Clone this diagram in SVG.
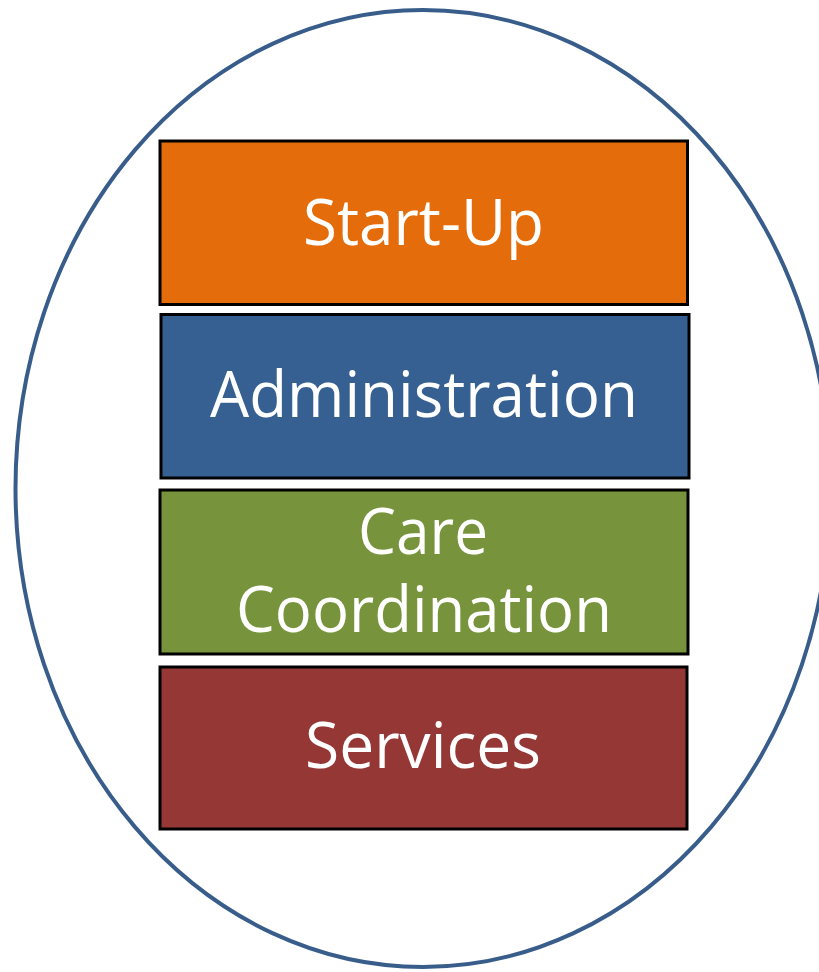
<svg xmlns="http://www.w3.org/2000/svg" width="819" height="972" viewBox="0 0 819 972">
  <style>
    .box { stroke: #000000; stroke-width: 3; }
    .label { font-family: "Open Sans", "Liberation Sans", sans-serif; font-size: 64px; fill: #ffffff; text-anchor: middle; }
  </style>
  <rect width="819" height="972" fill="#ffffff"/>
  <g id="boundary">
    <ellipse cx="423" cy="488.5" rx="407.5" ry="478.5" fill="none" stroke="#385D8A" stroke-width="4"/>
  </g>
  <g id="start-up">
    <rect class="box" x="160" y="141" width="527.5" height="163.5" fill="#E46C0A"/>
    <text class="label" x="423.5" y="245" textLength="241" lengthAdjust="spacingAndGlyphs">Start-Up</text>
  </g>
  <g id="administration">
    <rect class="box" x="161" y="314.5" width="528" height="163.5" fill="#366092"/>
    <text class="label" x="424" y="417" textLength="428" lengthAdjust="spacingAndGlyphs">Administration</text>
  </g>
  <g id="care-coordination">
    <rect class="box" x="160" y="490" width="528" height="164" fill="#77933C"/>
    <text class="label" x="423" y="554" textLength="130" lengthAdjust="spacingAndGlyphs">Care</text>
    <text class="label" x="424" y="632" textLength="376" lengthAdjust="spacingAndGlyphs">Coordination</text>
  </g>
  <g id="services">
    <rect class="box" x="160" y="667" width="527" height="162" fill="#953735"/>
    <text class="label" x="423" y="768" textLength="236" lengthAdjust="spacingAndGlyphs">Services</text>
  </g>
  <g id="connectors"/>
</svg>
